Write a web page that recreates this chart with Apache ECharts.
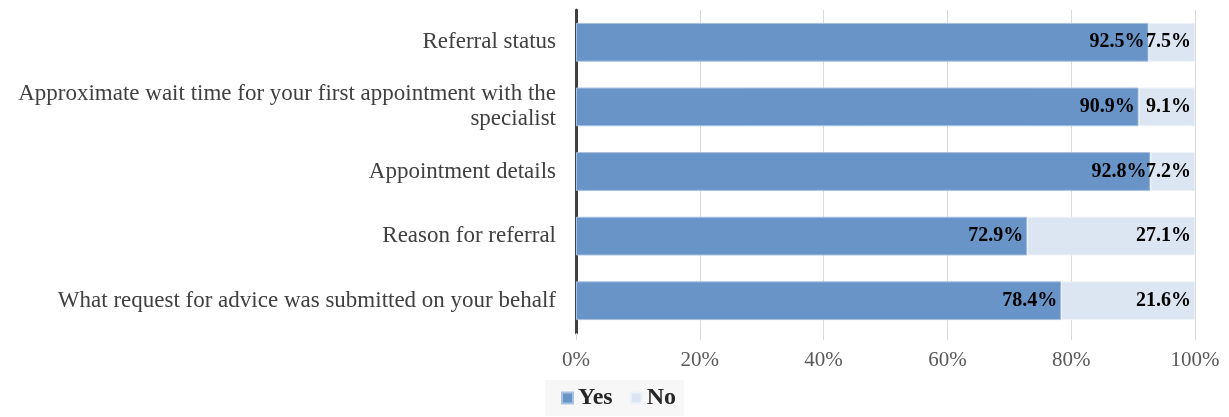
<!DOCTYPE html>
<html><head><meta charset="utf-8">
<script src="https://cdn.jsdelivr.net/npm/echarts@6/dist/echarts.min.js"></script>
<style>html,body{margin:0;padding:0;background:#fff}#c{width:1229px;height:417px}</style>
</head><body><div id="c"></div>
<script>
const categories = ["Referral status","Approximate wait time for your first appointment with the\nspecialist","Appointment details","Reason for referral","What request for advice was submitted on your behalf"];
const yesValues = [92.5, 90.9, 92.8, 72.9, 78.4];
const noValues = [7.5, 9.1, 7.2, 27.1, 21.6];
const seriesNames = ["Yes","No"];
const font = "'Liberation Serif', 'DejaVu Serif', serif";
const chart = echarts.init(document.getElementById('c'));
const lbl = {show:true, position:'insideRight', formatter: p => p.value.toFixed(1) + '%', color:'#000', fontWeight:'bold', fontSize:20, fontFamily:font, distance:4};
chart.setOption({
  animation:false,
  textStyle:{fontFamily:font},
  grid:{left:576, right:34, top:10, bottom:84},
  legend:{left:545, top:380, itemWidth:11, itemHeight:11, itemGap:17, padding:[6,8,6,16], backgroundColor:'#f7f7f7',
    textStyle:{fontSize:24, fontWeight:'bold', color:'#262626', fontFamily:font}, data:seriesNames, icon:'rect'},
  xAxis:{type:'value', min:0, max:100, interval:20,
    axisLabel:{formatter:'{value}%', fontSize:21, color:'#595959', fontFamily:font, margin:17},
    splitLine:{lineStyle:{color:'#d9d9d9', width:1}},
    axisTick:{show:true, length:7, lineStyle:{color:'#d9d9d9'}},
    axisLine:{show:false}},
  yAxis:{type:'category', data:categories, inverse:true,
    axisLine:{show:true, lineStyle:{color:'#404040', width:3}},
    axisTick:{show:false},
    axisLabel:{fontSize:23, color:'#404040', fontFamily:font, margin:20, lineHeight:25}},
  series:[
    {name:seriesNames[0], type:'bar', stack:'a', data:yesValues, barWidth:'60%', itemStyle:{color:'#6894c8', borderColor:'#a9c1e0', borderWidth:1}, label:lbl},
    {name:seriesNames[1], type:'bar', stack:'a', data:noValues, barWidth:'60%', itemStyle:{color:'#dce6f2', borderColor:'#eef3f9', borderWidth:1}, label:lbl}
  ]
});
</script></body></html>
